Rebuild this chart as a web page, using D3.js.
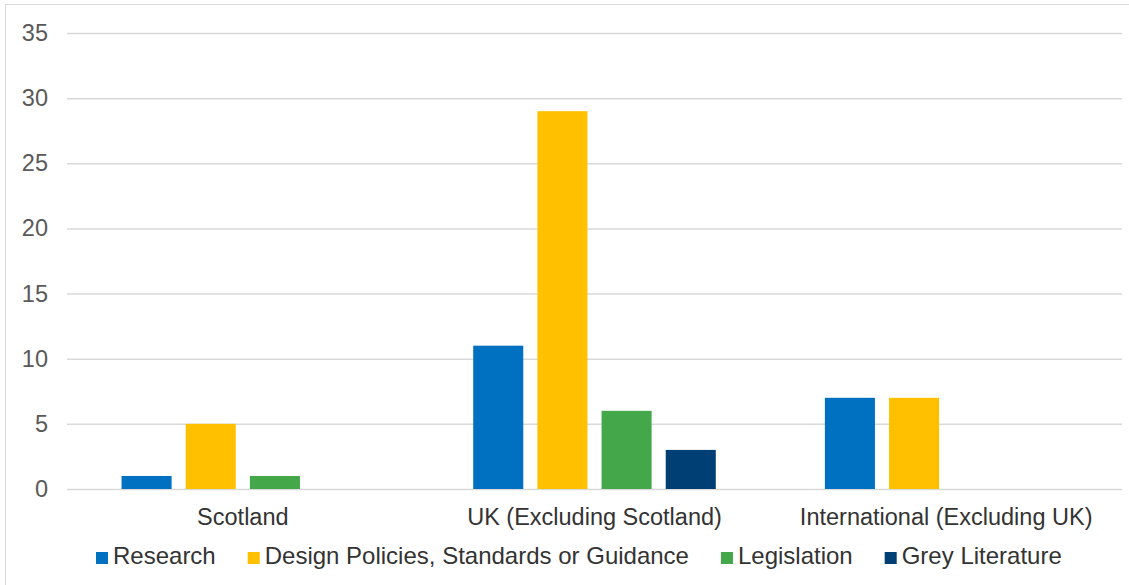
<!DOCTYPE html>
<html>
<head>
<meta charset="utf-8">
<script src="https://cdn.jsdelivr.net/npm/d3@7"></script>
<style>
  body { margin: 0; background: #fff; }
  text { font-family: "Liberation Sans", Arial, sans-serif; }
</style>
</head>
<body>
<div id="chart"></div>
<script>
// data
const categories = ["Scotland", "UK (Excluding Scotland)", "International (Excluding UK)"];
const seriesNames = ["Research", "Design Policies, Standards or Guidance", "Legislation", "Grey Literature"];
const seriesColors = ["#0070C0", "#FFC000", "#44A84A", "#003F73"];
const research = [1, 11, 7];
const design = [5, 29, 7];
const legislation = [1, 6, 0];
const grey = [0, 3, 0];
const yTicks = [0, 5, 10, 15, 20, 25, 30, 35];

const allSeries = [research, design, legislation, grey];

const W = 1129, H = 585;
const plot = {left: 67, right: 1122, top: 33, bottom: 489};

const svg = d3.select("#chart").append("svg")
  .attr("width", W).attr("height", H);

// outer frame
svg.append("rect")
  .attr("x", 5.5).attr("y", 4.5)
  .attr("width", W - 4).attr("height", H)
  .attr("fill", "none").attr("stroke", "#d9d9d9");

const x0 = d3.scaleBand().domain(categories)
  .range([plot.left, plot.right]).paddingInner(0).paddingOuter(0);
const x1 = d3.scaleBand().domain(seriesNames)
  .range([0, x0.bandwidth()]).paddingInner(0.22).paddingOuter(0.85);
const y = d3.scaleLinear().domain([0, 35]).range([plot.bottom, plot.top]);

// gridlines
svg.append("g").selectAll("line").data(yTicks).enter().append("line")
  .attr("x1", plot.left).attr("x2", plot.right)
  .attr("y1", d => y(d) + 0.5).attr("y2", d => y(d) + 0.5)
  .attr("stroke", "#d9d9d9").attr("stroke-width", 1.5);

// y axis labels
const yAxis = svg.append("g")
  .attr("transform", `translate(${plot.left - 19},0)`)
  .call(d3.axisLeft(y).tickValues(yTicks).tickSize(0).tickPadding(0));
yAxis.select(".domain").remove();
yAxis.selectAll("text")
  .attr("fill", "#595959").style("font-size", "23.5px")
  .style("font-family", '"Liberation Sans", Arial, sans-serif');

// bars
const groups = svg.append("g").selectAll("g").data(categories).enter().append("g")
  .attr("transform", d => `translate(${x0(d)},0)`);
groups.selectAll("rect")
  .data((c, ci) => seriesNames.map((s, si) => ({s, si, v: allSeries[si][ci]})))
  .enter().append("rect")
  .attr("x", d => x1(d.s))
  .attr("width", x1.bandwidth())
  .attr("y", d => y(d.v))
  .attr("height", d => y(0) - y(d.v))
  .attr("fill", d => seriesColors[d.si]);

// category labels
const xAxis = svg.append("g")
  .attr("transform", `translate(0,${plot.bottom + 19})`)
  .call(d3.axisBottom(x0).tickSize(0).tickPadding(0));
xAxis.select(".domain").remove();
xAxis.selectAll("text")
  .attr("fill", "#333").attr("dy", "0.71em").style("font-size", "23.5px")
  .style("font-family", '"Liberation Sans", Arial, sans-serif');

// legend
const legend = svg.append("g").attr("transform", "translate(96,0)");
let lx = 0;
seriesNames.forEach((name, i) => {
  const g = legend.append("g").attr("transform", `translate(${lx},0)`);
  g.append("rect").attr("x", 0).attr("y", 552).attr("width", 12).attr("height", 12)
    .attr("fill", seriesColors[i]);
  const t = g.append("text").attr("x", 17).attr("y", 564)
    .attr("fill", "#333").style("font-size", "24px").text(name);
  lx += 17 + t.node().getComputedTextLength() + 32;
});
</script>
</body>
</html>
